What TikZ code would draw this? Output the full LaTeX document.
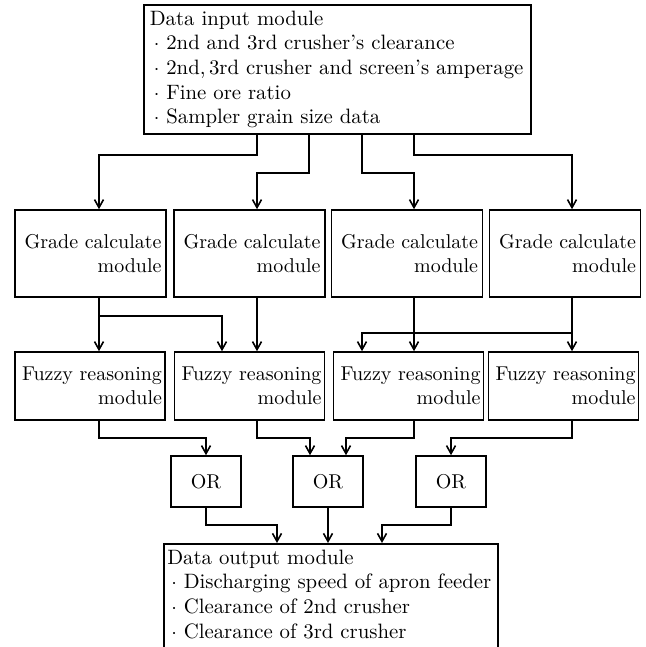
\documentclass[tikz,border=0pt]{standalone}
\usetikzlibrary{arrows.meta}

\begin{document}
\begin{tikzpicture}[x=0.5pt, y=-0.5pt, line width=0.8pt, >={Straight Barb[length=4pt,width=4.5pt]},
	list node/.style={draw, rectangle, align=left, inner sep=3pt, anchor=north west, font=\fontsize{10.4}{12.3}\selectfont},
	grade node/.style={draw, rectangle, align=right, text width=71pt, inner sep=1.5pt, minimum width=75.5pt, minimum height=43.5pt},
	fuzzy node/.style={draw, rectangle, align=right, text width=72pt, inner sep=1pt, minimum width=75pt, minimum height=34pt},
	or node/.style={draw, rectangle, minimum width=35pt, minimum height=25.5pt}]
	\clip (0,0) rectangle (645,647);

	\node[list node, text width=187.5pt] (input) at (143,4) {Data input module\\
		\hspace{2pt}$\cdot$ 2nd and 3rd crusher's clearance\\
		\hspace{2pt}$\cdot$ 2nd,\,3rd crusher and screen's amperage\\
		\hspace{2pt}$\cdot$ Fine ore ratio\\
		\hspace{2pt}$\cdot$ Sampler grain size data};

	\node[grade node] (g1) at (90.5,253.5) {Grade calculate\\module};
	\node[grade node] (g2) at (249.5,253.5) {Grade calculate\\module};
	\node[grade node] (g3) at (407,253.5) {Grade calculate\\module};
	\node[grade node] (g4) at (565,253.5) {Grade calculate\\module};

	\node[fuzzy node] (f1) at (90,386) {Fuzzy reasoning\\module};
	\node[fuzzy node] (f2) at (249.5,386) {Fuzzy reasoning\\module};
	\node[fuzzy node] (f3) at (408.5,386) {Fuzzy reasoning\\module};
	\node[fuzzy node] (f4) at (563.5,386) {Fuzzy reasoning\\module};

	\node[or node] (o1) at (206,481.5) {OR};
	\node[or node] (o2) at (328,481.5) {OR};
	\node[or node] (o3) at (451,481.5) {OR};

	% bottom edge of this box lies below the frame
	\node[list node, text width=163.5pt, inner xsep=1.75pt] (output) at (163,543) {Data output module\\
		\hspace{2pt}$\cdot$ Discharging speed of apron feeder\\
		\hspace{2pt}$\cdot$ Clearance of 2nd crusher\\
		\hspace{2pt}$\cdot$ Clearance of 3rd crusher\\
		\strut};

	% columns and levels of the connectors
	\coordinate (k1) at (99,0);
	\coordinate (k2) at (257,0);
	\coordinate (k3) at (414,0);
	\coordinate (k4) at (572,0);
	\coordinate (t2) at (309,0);
	\coordinate (t3) at (362,0);
	\coordinate (m2) at (222,0);
	\coordinate (r2) at (310,0);
	\coordinate (r3) at (346,0);
	\coordinate (s1) at (277,0);
	\coordinate (s3) at (382,0);
	\coordinate (l1) at (0,155);
	\coordinate (l2) at (0,173);
	\coordinate (l3) at (0,316);
	\coordinate (l4) at (0,333);
	\coordinate (l5) at (0,438);
	\coordinate (l6) at (0,525);

	\draw[->] (input.south -| k2) |- (k1 |- l1) -- (g1.north -| k1);
	\draw[->] (input.south -| t2) |- (k2 |- l2) -- (g2.north -| k2);
	\draw[->] (input.south -| t3) |- (k3 |- l2) -- (g3.north -| k3);
	\draw[->] (input.south -| k3) |- (k4 |- l1) -- (g4.north -| k4);

	\draw[->] (g1.south -| k1) -- (f1.north -| k1);
	\draw[->] (g1.south -| k1) |- (m2 |- l3) -- (f2.north -| m2);
	\draw[->] (g2.south -| k2) -- (f2.north -| k2);
	\draw[->] (g3.south -| k3) -- (f3.north -| k3);
	\draw[->] (g4.south -| k4) -- (f4.north -| k4);
	\draw[->] (g4.south -| k4) |- (t3 |- l4) -- (f3.north -| t3);

	\draw[->] (f1.south -| k1) |- (o1 |- l5) -- (o1.north);
	\draw[->] (f2.south -| k2) |- (r2 |- l5) -- (o2.north -| r2);
	\draw[->] (f3.south -| k3) |- (r3 |- l5) -- (o2.north -| r3);
	\draw[->] (f4.south -| k4) |- (o3 |- l5) -- (o3.north);

	\draw[->] (o1.south) |- (s1 |- l6) -- (output.north -| s1);
	\draw[->] (o2.south) -- (output.north -| o2);
	\draw[->] (o3.south) |- (s3 |- l6) -- (output.north -| s3);
\end{tikzpicture}
\end{document}
